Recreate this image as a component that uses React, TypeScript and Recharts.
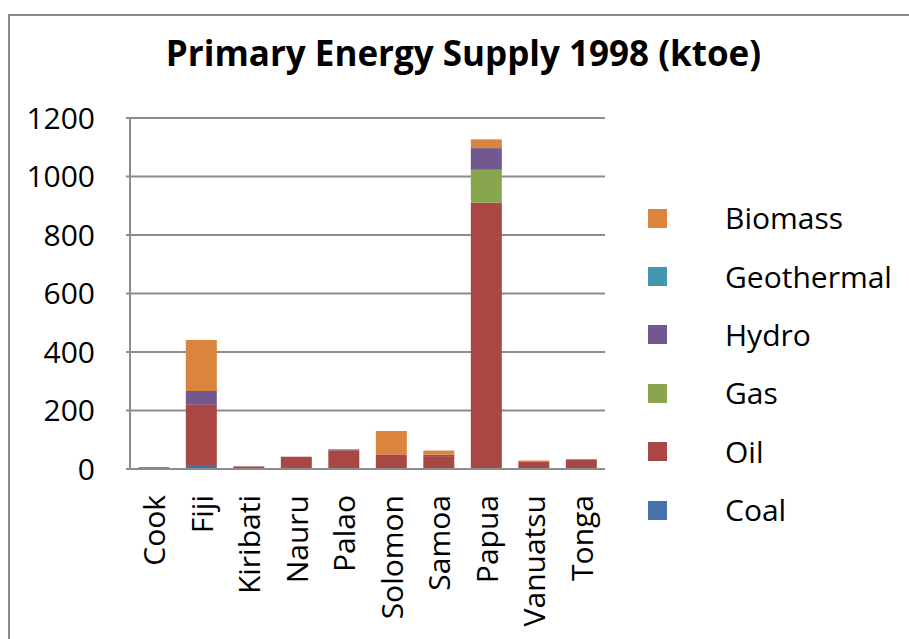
import React from 'react'
import { BarChart, Bar, XAxis, YAxis, CartesianGrid } from 'recharts'

const countries = ['Cook', 'Fiji', 'Kiribati', 'Nauru', 'Palao', 'Solomon', 'Samoa', 'Papua', 'Vanuatsu', 'Tonga']
const coal = [0, 14, 0, 0, 0, 0, 0, 0, 0, 0]
const oil = [6, 207, 9, 42, 64, 50, 44, 910, 26, 33]
const gas = [0, 0, 0, 0, 0, 0, 0, 113, 0, 0]
const hydro = [0, 46, 0, 0, 3, 0, 5, 74, 0, 0]
const geothermal = [0, 0, 0, 0, 0, 0, 0, 0, 0, 0]
const biomass = [0, 174, 0, 0, 0, 80, 14, 30, 3, 0]
const yTicks = [0, 200, 400, 600, 800, 1000, 1200]

const series = [
  { key: 'Coal', color: '#4672AA' },
  { key: 'Oil', color: '#AA4644' },
  { key: 'Gas', color: '#89A54E' },
  { key: 'Hydro', color: '#71588F' },
  { key: 'Geothermal', color: '#4198AF' },
  { key: 'Biomass', color: '#DB843D' },
]

const data = countries.map((name, i) => ({
  name,
  Coal: coal[i],
  Oil: oil[i],
  Gas: gas[i],
  Hydro: hydro[i],
  Geothermal: geothermal[i],
  Biomass: biomass[i],
}))

const font = '"Open Sans", sans-serif'

function XTick({ x, y, payload }: any) {
  return (
    <text
      x={x}
      y={y + 18}
      transform={`rotate(-90, ${x}, ${y + 18})`}
      textAnchor="end"
      dominantBaseline="central"
      fontSize={30}
      fontFamily={font}
      fill="#000"
    >
      {payload.value}
    </text>
  )
}

// legend drawn top to bottom in reverse stack order, like Excel
function LegendBox() {
  const items = [...series].reverse()
  return (
    <div style={{ position: 'absolute', left: 648, top: 189, fontFamily: font }}>
      {items.map(s => (
        <div key={s.key} style={{ display: 'flex', alignItems: 'center', height: 58.4 }}>
          <span style={{ width: 19, height: 19, background: s.color, display: 'inline-block', marginRight: 58 }} />
          <span style={{ fontSize: 30, lineHeight: '30px', color: '#000' }}>{s.key}</span>
        </div>
      ))}
    </div>
  )
}

export default function App() {
  return (
    <div style={{ position: 'fixed', left: 0, top: 0, width: 909, height: 639, background: '#fff', overflow: 'hidden' }}>
      <div style={{ position: 'absolute', left: 8, top: 14, width: 1000, height: 1000, border: '2px solid #8a8a8a' }} />
      <div
        style={{
          position: 'absolute',
          left: 0,
          top: 35,
          width: 927,
          textAlign: 'center',
          fontFamily: font,
          fontWeight: 700,
          fontSize: 35,
          lineHeight: '35px',
          color: '#000',
          whiteSpace: 'nowrap',
        }}
      >
        Primary Energy Supply 1998 (ktoe)
      </div>
      <div style={{ position: 'absolute', left: 0, top: 0 }}>
        <BarChart
          width={909}
          height={639}
          data={data}
          margin={{ top: 118, right: 304, bottom: 0, left: 0 }}
          barCategoryGap="17.5%"
        >
          <CartesianGrid vertical={false} stroke="#8c8c8c" strokeWidth={2} />
          <XAxis
            dataKey="name"
            height={170}
            interval={0}
            tick={<XTick />}
            tickLine={false}
            axisLine={{ stroke: '#8c8c8c', strokeWidth: 2 }}
          />
          <YAxis
            width={130}
            domain={[0, 1200]}
            ticks={yTicks}
            tickSize={4}
            tickMargin={31}
            tickLine={{ stroke: '#8c8c8c', strokeWidth: 2 }}
            axisLine={{ stroke: '#8c8c8c', strokeWidth: 2 }}
            tick={{ fontSize: 30, fontFamily: font, fill: '#000' }}
          />
          {series.map(s => (
            <Bar key={s.key} dataKey={s.key} stackId="a" fill={s.color} isAnimationActive={false} />
          ))}
        </BarChart>
      </div>
      <LegendBox />
    </div>
  )
}
